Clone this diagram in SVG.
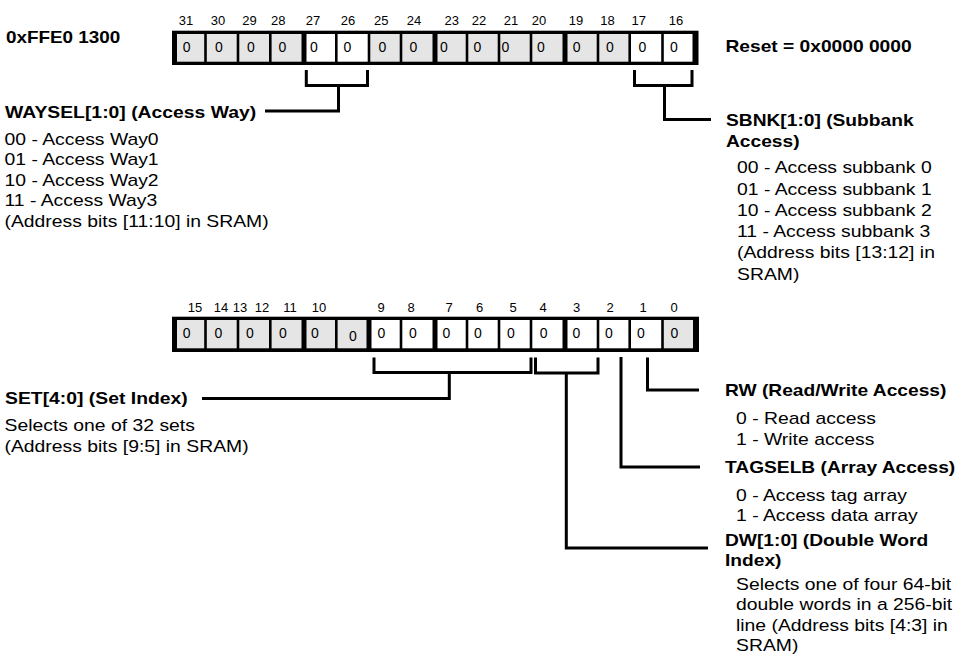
<svg xmlns="http://www.w3.org/2000/svg" width="959" height="656" viewBox="0 0 959 656">
<style>
  .frame{fill:#000}
  .g{fill:#e5e5e5}
  .w{fill:#fff}
  .v{font-family:"Liberation Sans",Arial,Helvetica,sans-serif;font-size:14px;fill:#000;text-anchor:middle}
  .n{font-family:"Liberation Sans",Arial,Helvetica,sans-serif;font-size:13px;fill:#000;text-anchor:middle}
  .t{font-family:"Liberation Sans",Arial,Helvetica,sans-serif;font-size:16px;fill:#000}
  .b{font-weight:bold}
  .c{fill:none;stroke:#000;stroke-width:3;stroke-linejoin:miter;stroke-linecap:butt}
</style>
<rect width="959" height="656" fill="#fff"/>

<g id="address">
  <text class="t b" transform="translate(6,42.7) scale(1.18,1)">0xFFE0 1300</text>
</g>
<g id="reset">
  <text class="t b" transform="translate(725.5,51.5) scale(1.2,1)">Reset = 0x0000 0000</text>
</g>

<g id="reg-top">
  <g id="bits-top">
    <text class="n" x="186" y="25">31</text>
    <text class="n" x="218" y="25">30</text>
    <text class="n" x="249.5" y="25">29</text>
    <text class="n" x="278.3" y="25">28</text>
    <text class="n" x="313" y="25">27</text>
    <text class="n" x="348" y="25">26</text>
    <text class="n" x="381.3" y="25">25</text>
    <text class="n" x="414" y="25">24</text>
    <text class="n" x="451.7" y="25">23</text>
    <text class="n" x="479" y="25">22</text>
    <text class="n" x="511" y="25">21</text>
    <text class="n" x="539" y="25">20</text>
    <text class="n" x="576" y="25">19</text>
    <text class="n" x="607.5" y="25">18</text>
    <text class="n" x="638.7" y="25">17</text>
    <text class="n" x="676" y="25">16</text>
  </g>
  <rect class="frame" x="172" y="30.7" width="526.5" height="34.3"/>
  <rect class="g" x="177" y="34" width="27.2" height="27.7"/>
  <rect class="g" x="206.8" y="34" width="29.9" height="27.7"/>
  <rect class="g" x="239.3" y="34" width="29.7" height="27.7"/>
  <rect class="g" x="271.6" y="34" width="29.9" height="27.7"/>
  <rect class="w" x="306.5" y="34" width="28.5" height="27.7"/>
  <rect class="w" x="337.6" y="34" width="30.1" height="27.7"/>
  <rect class="g" x="370.3" y="34" width="29.4" height="27.7"/>
  <rect class="g" x="402.3" y="34" width="30.2" height="27.7"/>
  <rect class="g" x="437.5" y="34" width="28.2" height="27.7"/>
  <rect class="g" x="468.3" y="34" width="29.4" height="27.7"/>
  <rect class="g" x="500.3" y="34" width="29.4" height="27.7"/>
  <rect class="g" x="532.3" y="34" width="30.2" height="27.7"/>
  <rect class="g" x="567.5" y="34" width="29.2" height="27.7"/>
  <rect class="g" x="599.3" y="34" width="29.1" height="27.7"/>
  <rect class="w" x="631" y="34" width="30.2" height="27.7"/>
  <rect class="w" x="663.8" y="34" width="28.7" height="27.7"/>
  <g id="vals-top">
    <text class="v" x="186.7" y="52">0</text>
    <text class="v" x="219" y="52">0</text>
    <text class="v" x="251" y="52">0</text>
    <text class="v" x="282.5" y="52">0</text>
    <text class="v" x="314" y="52">0</text>
    <text class="v" x="347.5" y="52">0</text>
    <text class="v" x="382.5" y="52">0</text>
    <text class="v" x="413.3" y="52">0</text>
    <text class="v" x="444" y="52">0</text>
    <text class="v" x="477.5" y="52">0</text>
    <text class="v" x="505.3" y="52">0</text>
    <text class="v" x="541" y="52">0</text>
    <text class="v" x="576.7" y="52">0</text>
    <text class="v" x="610" y="52">0</text>
    <text class="v" x="642.5" y="52">0</text>
    <text class="v" x="674" y="52">0</text>
  </g>
</g>

<g id="reg-bottom">
  <g id="bits-bottom">
    <text class="n" x="195" y="311.5">15</text>
    <text class="n" x="221" y="311.5">14</text>
    <text class="n" x="240" y="311.5">13</text>
    <text class="n" x="262" y="311.5">12</text>
    <text class="n" x="290" y="311.5">11</text>
    <text class="n" x="319" y="311.5">10</text>
    <text class="n" x="381" y="311.5">9</text>
    <text class="n" x="411" y="311.5">8</text>
    <text class="n" x="449" y="311.5">7</text>
    <text class="n" x="479.7" y="311.5">6</text>
    <text class="n" x="513" y="311.5">5</text>
    <text class="n" x="543" y="311.5">4</text>
    <text class="n" x="576.7" y="311.5">3</text>
    <text class="n" x="610" y="311.5">2</text>
    <text class="n" x="643" y="311.5">1</text>
    <text class="n" x="674" y="311.5">0</text>
  </g>
  <rect class="frame" x="172" y="316.7" width="527" height="35.3"/>
  <rect class="g" x="177" y="320" width="27.2" height="28.3"/>
  <rect class="g" x="206.8" y="320" width="29.9" height="28.3"/>
  <rect class="g" x="239.3" y="320" width="29.7" height="28.3"/>
  <rect class="g" x="271.6" y="320" width="29.9" height="28.3"/>
  <rect class="g" x="306.5" y="320" width="28.5" height="28.3"/>
  <rect class="g" x="337.6" y="320" width="28.9" height="28.3"/>
  <rect class="w" x="371.5" y="320" width="28.2" height="28.3"/>
  <rect class="w" x="402.3" y="320" width="30.2" height="28.3"/>
  <rect class="w" x="437.5" y="320" width="28.2" height="28.3"/>
  <rect class="w" x="468.3" y="320" width="29.4" height="28.3"/>
  <rect class="w" x="500.3" y="320" width="29.4" height="28.3"/>
  <rect class="w" x="532.3" y="320" width="30.2" height="28.3"/>
  <rect class="w" x="567.5" y="320" width="29.2" height="28.3"/>
  <rect class="w" x="599.3" y="320" width="29.1" height="28.3"/>
  <rect class="w" x="631" y="320" width="30.2" height="28.3"/>
  <rect class="g" x="663.8" y="320" width="29.2" height="28.3"/>
  <g id="vals-bottom">
    <text class="v" x="186.7" y="337.5">0</text>
    <text class="v" x="218.3" y="337.5">0</text>
    <text class="v" x="250" y="337.5">0</text>
    <text class="v" x="283" y="337.5">0</text>
    <text class="v" x="315" y="337.5">0</text>
    <text class="v" x="353" y="341">0</text>
    <text class="v" x="381.3" y="337.5">0</text>
    <text class="v" x="413" y="337.5">0</text>
    <text class="v" x="446.3" y="337.5">0</text>
    <text class="v" x="478" y="337.5">0</text>
    <text class="v" x="511" y="337.5">0</text>
    <text class="v" x="543.7" y="337.5">0</text>
    <text class="v" x="576.3" y="337.5">0</text>
    <text class="v" x="609" y="337.5">0</text>
    <text class="v" x="641" y="337.5">0</text>
    <text class="v" x="674.5" y="337.5">0</text>
  </g>
</g>

<g id="connectors">
  <path class="c" d="M306.3,70 V85.5 H367.5 V70"/>
  <path class="c" d="M338.5,85.5 V111 H265"/>
  <path class="c" d="M634.5,70 V85.5 H692 V70"/>
  <path class="c" d="M664.5,85.5 V119.5 H711"/>
  <path class="c" d="M374,357.5 V372.5 H531 V357.5"/>
  <path class="c" d="M449.3,372.5 V398.5 H202"/>
  <path class="c" d="M535.5,357.5 V373 H598 V357.5"/>
  <path class="c" d="M566.3,373 V548 H708"/>
  <path class="c" d="M621,357 V467 H700"/>
  <path class="c" d="M647.5,357.5 V390 H699"/>
</g>

<g id="waysel">
  <text class="t b" transform="translate(5,118.3) scale(1.21,1)">WAYSEL[1:0] (Access Way)</text>
  <text class="t" transform="translate(4.5,145) scale(1.21,1)">
    <tspan x="0" y="0">00 - Access Way0</tspan>
    <tspan x="0" y="20.5">01 - Access Way1</tspan>
    <tspan x="0" y="41">10 - Access Way2</tspan>
    <tspan x="0" y="61.5">11 - Access Way3</tspan>
    <tspan x="0" y="82">(Address bits [11:10] in SRAM)</tspan>
  </text>
</g>

<g id="sbnk">
  <text class="t b" transform="translate(726,125.7) scale(1.2,1)">
    <tspan x="0" y="0">SBNK[1:0] (Subbank</tspan>
    <tspan x="0" y="21">Access)</tspan>
  </text>
  <text class="t" transform="translate(737,173.3) scale(1.21,1)">
    <tspan x="0" y="0">00 - Access subbank 0</tspan>
    <tspan x="0" y="21.3">01 - Access subbank 1</tspan>
    <tspan x="0" y="42.6">10 - Access subbank 2</tspan>
    <tspan x="0" y="63.9">11 - Access subbank 3</tspan>
    <tspan x="0" y="85.2">(Address bits [13:12] in</tspan>
    <tspan x="0" y="106.5">SRAM)</tspan>
  </text>
</g>

<g id="set">
  <text class="t b" transform="translate(5,404) scale(1.21,1)">SET[4:0] (Set Index)</text>
  <text class="t" transform="translate(4.5,431) scale(1.21,1)">
    <tspan x="0" y="0">Selects one of 32 sets</tspan>
    <tspan x="0" y="21">(Address bits [9:5] in SRAM)</tspan>
  </text>
</g>

<g id="rw">
  <text class="t b" transform="translate(725,396) scale(1.2,1)">RW (Read/Write Access)</text>
  <text class="t" transform="translate(736,424) scale(1.21,1)">
    <tspan x="0" y="0">0 - Read access</tspan>
    <tspan x="0" y="21">1 - Write access</tspan>
  </text>
</g>

<g id="tagselb">
  <text class="t b" transform="translate(725,473) scale(1.2,1)">TAGSELB (Array Access)</text>
  <text class="t" transform="translate(736,500.5) scale(1.21,1)">
    <tspan x="0" y="0">0 - Access tag array</tspan>
    <tspan x="0" y="21">1 - Access data array</tspan>
  </text>
</g>

<g id="dw">
  <text class="t b" transform="translate(725,545.5) scale(1.2,1)">
    <tspan x="0" y="0">DW[1:0] (Double Word</tspan>
    <tspan x="0" y="21">Index)</tspan>
  </text>
  <text class="t" transform="translate(736,590) scale(1.21,1)">
    <tspan x="0" y="0">Selects one of four 64-bit</tspan>
    <tspan x="0" y="20.5">double words in a 256-bit</tspan>
    <tspan x="0" y="41">line (Address bits [4:3] in</tspan>
    <tspan x="0" y="61.5">SRAM)</tspan>
  </text>
</g>
</svg>
